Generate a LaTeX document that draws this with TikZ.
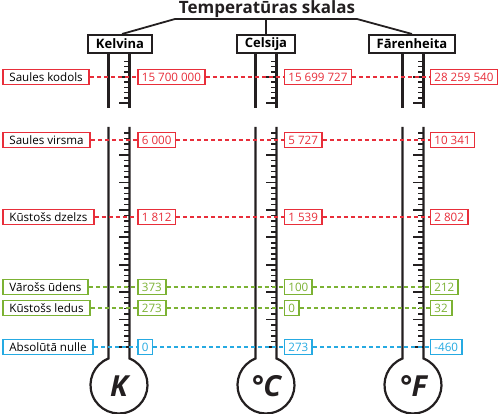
\documentclass[tikz,border=0pt]{standalone}
\usepackage{fontspec}
\setmainfont{Open Sans}
\usetikzlibrary{positioning}

\definecolor{hotRed}{RGB}{232,46,58}
\definecolor{waterGreen}{RGB}{124,178,52}
\definecolor{zeroBlue}{RGB}{38,170,226}
\definecolor{inkGray}{RGB}{35,31,32}

\tikzset{
  scaleHeader/.style={rectangle, draw=inkGray, line width=2pt, fill=white, minimum height=18pt, inner xsep=8pt, inner ysep=0pt, font=\bfseries\fontsize{13}{15}\selectfont},
  pointLabel/.style={rectangle, draw=#1, line width=1.8pt, fill=white, minimum height=15pt, inner xsep=6.5pt, inner ysep=0pt, anchor=west, font=\fontsize{11.6}{13}\selectfont},
  pointValue/.style={pointLabel=#1, text=#1, inner xsep=4pt},
  levelLine/.style={draw=#1, line width=1.8pt, dash pattern=on 4pt off 3pt},
  tubeLine/.style={draw=inkGray, line width=2.2pt},
  tickLine/.style={draw=inkGray, line width=1.6pt},
}

\begin{document}
\begin{tikzpicture}[x=1pt, y=-1pt]
\useasboundingbox (0,0) rectangle (500,414);

\node[font=\bfseries\fontsize{17}{20}\selectfont, text=inkGray](title) at (267,9){Temperatūras skalas};

\node[scaleHeader](kelvinHeader) at (120,44){Kelvina};
\node[scaleHeader](celsiusHeader) at (266,44){Celsija};
\node[scaleHeader](fahrenheitHeader) at (412,44){Fārenheita};

\coordinate (treeLeft) at (175,19);
\coordinate (treeRight) at (357,19);
\draw[inkGray, line width=1.8pt] ([xshift=2pt]kelvinHeader.north) -- (treeLeft) -- (treeRight) -- (fahrenheitHeader.north);
\draw[inkGray, line width=1.8pt] (celsiusHeader.north) -- (celsiusHeader.north |- treeLeft);

\foreach \cx/\hdr/\unit in {119/kelvinHeader/K, 266/celsiusHeader/{°C}, 413/fahrenheitHeader/{°F}} {
  \draw[tubeLine] (\cx-10.5,53) -- ++(0,55);
  \draw[tubeLine] (\cx+10.5,53) -- ++(0,55);
  \draw[tubeLine] (\cx-10.5,127) -- (\cx-10.5,358.5) arc[start angle=111.6, end angle=428.4, radius=28.5pt] -- (\cx+10.5,127);
  \foreach \ty in {61.4,66.6,71.8,82.2,87.4,92.6,97.8}
    \draw[tickLine] (\cx+10.5,\ty) -- ++(-6,0);
  \foreach \ty in {77,103}
    \draw[tickLine] (\cx+10.5,\ty) -- ++(-11,0);
  \foreach \j in {-4,...,35} {
    \pgfmathsetmacro\ty{155+5.486*\j}
    \pgfmathsetmacro\len{mod(\j,5)==0 ? 11 : 6}
    \draw[tickLine] (\cx+10.5,\ty) -- ++(-\len,0);
  }
  \node[font=\bfseries\itshape\fontsize{29}{31}\selectfont, text=inkGray](\hdr Bulb) at (\cx,386){\unit};
}

\foreach \row/\ty/\clr/\txt/\kv/\cv/\fv in {
    kodols/77/hotRed/Saules kodols/15 700 000/15 699 727/28 259 540,
    virsma/140/hotRed/Saules virsma/6 000/5 727/10 341,
    dzelzs/217/hotRed/Kūstošs dzelzs/1 812/1 539/2 802,
    udens/287/waterGreen/Vārošs ūdens/373/100/212,
    ledus/308/waterGreen/Kūstošs ledus/273/0/32,
    nulle/347/zeroBlue/Absolūtā nulle/0/273/-460} {
  \node[pointLabel=\clr](\row Label) at (2,\ty){\txt};
  \node[pointValue=\clr](\row K) at (137,\ty){\kv};
  \node[pointValue=\clr](\row C) at (283.5,\ty){\cv};
  \node[pointValue=\clr](\row F) at (429.5,\ty){\fv};
  \draw[levelLine=\clr] (\row Label.east) -- (\row K.west);
  \draw[levelLine=\clr] (\row K.east) -- (\row C.west);
  \draw[levelLine=\clr] (\row C.east) -- (\row F.west);
}

\end{tikzpicture}
\end{document}
